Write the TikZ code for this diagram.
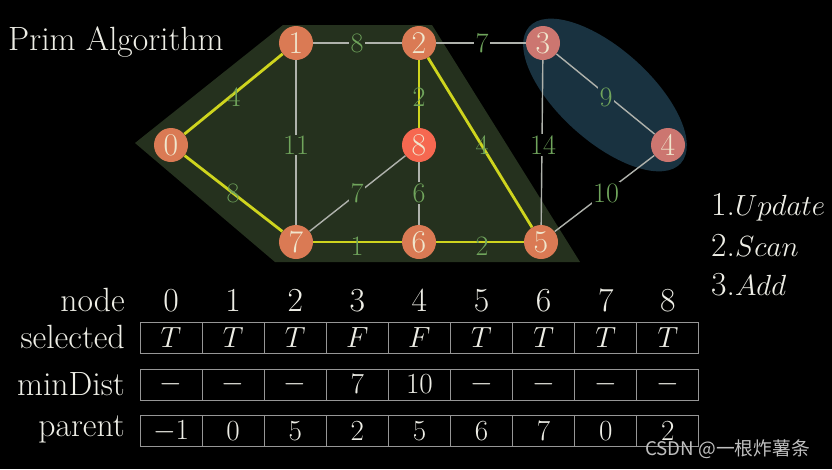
\documentclass[tikz,border=0pt]{standalone}
\usepackage{fontspec}
\newfontfamily\cjkfont{Noto Sans CJK SC}
\usepackage{tikz}
\usetikzlibrary{positioning,calc}
\definecolor{nodeOrange}{RGB}{218,122,84}
\definecolor{nodeRed}{RGB}{246,104,80}
\definecolor{nodePink}{RGB}{204,118,112}
\definecolor{nodeTxt}{RGB}{240,230,205}
\definecolor{treeYellow}{RGB}{206,212,30}
\definecolor{edgeGray}{RGB}{175,178,172}
\definecolor{wGreen}{RGB}{112,165,92}
\definecolor{setGreen}{RGB}{37,49,30}
\definecolor{cutBlue}{RGB}{25,50,64}
\definecolor{txtWhite}{RGB}{238,238,230}
\definecolor{cellGray}{RGB}{150,150,150}

\begin{document}
\begin{tikzpicture}[x=0.03cm,y=-0.03cm,
  vtx/.style={circle,fill=nodeOrange,minimum size=1.02cm,inner sep=0pt,
              text=nodeTxt,font=\fontsize{27}{27}\selectfont},
  wlab/.style={text=wGreen,inner sep=1pt,font=\fontsize{24}{24}\selectfont},
  gedge/.style={draw=edgeGray,line width=1.2pt},
  tedge/.style={draw=treeYellow,line width=2.4pt},
  txt/.style={text=txtWhite,inner sep=0pt,font=\fontsize{28.7}{32}\selectfont},
  cell/.style={draw=cellGray,line width=0.8pt,minimum width=1.863cm,minimum height=0.93cm,
               inner sep=0pt,text=txtWhite,font=\fontsize{28.7}{32}\selectfont},
]
\fill[black] (0,0) rectangle (832,469);
\useasboundingbox (0,0) rectangle (832,469);

\fill[setGreen] (135,143) -- (283,25) -- (432,25) -- (580,262) -- (275,262) -- cycle;
\fill[cutBlue,rotate around={-42:(605,95)}] (605,95) ellipse [x radius=3.06cm,y radius=1.38cm];

\node[txt,anchor=base west] (title) at (8,50) {Prim Algorithm};

\node[vtx] (v0) at (171,145) {0};
\node[vtx] (v1) at (296,43) {1};
\node[vtx] (v2) at (419,43) {2};
\node[vtx,fill=nodePink] (v3) at (543,43) {3};
\node[vtx,fill=nodePink] (v4) at (668,145) {4};
\node[vtx] (v5) at (541,242) {5};
\node[vtx] (v6) at (419,242) {6};
\node[vtx] (v7) at (296,242) {7};
\node[vtx,fill=nodeRed] (v8) at (419,145) {8};

\foreach \a/\b in {v1/v2,v2/v3,v1/v7,v7/v8,v8/v6,v3/v5,v3/v4,v4/v5}
  \draw[gedge] (\a) -- (\b);
\foreach \a/\b in {v0/v1,v0/v7,v2/v8,v2/v5,v7/v6,v6/v5}
  \draw[tedge] (\a) -- (\b);

\node[wlab] (w01) at (234,97) {4};
\node[wlab] (w07) at (233,193) {8};
\node[wlab,fill=setGreen] (w12) at (357,43) {8};
\node[wlab,fill=black] (w23) at (482,43) {7};
\node[wlab,fill=setGreen] (w17) at (296,145) {11};
\node[wlab] (w28) at (419,97) {2};
\node[wlab] (w25) at (482,145) {4};
\node[wlab,fill=setGreen] (w78) at (357,193) {7};
\node[wlab,fill=setGreen] (w86) at (419,193) {6};
\node[wlab,fill=black] (w35) at (543,145) {14};
\node[wlab,fill=cutBlue] (w34) at (606,97) {9};
\node[wlab,fill=black] (w45) at (606,193) {10};
\node[wlab] (w76) at (357,246) {1};
\node[wlab] (w65) at (482,246) {2};

\node[txt,anchor=base west] (upd) at (711,215) {1.$Update$};
\node[txt,anchor=base west] (scn) at (711,256) {2.$Scan$};
\node[txt,anchor=base west] (add) at (711,295) {3.$Add$};

\node[txt,anchor=base east] (lnode) at (125,311) {node};
\node[txt,anchor=base east] (lsel) at (125,348) {selected};
\node[txt,anchor=base east] (lmin) at (125,395) {minDist};
\node[txt,anchor=base east] (lpar) at (125,436) {parent};

\foreach \i in {0,...,8}
  \node[txt,anchor=base] (col\i) at ({171.05+62.1*\i},311) {\i};
\foreach \v [count=\i from 0] in {T,T,T,F,F,T,T,T,T}
  \node[cell] (sel\i) at ({171.05+62.1*\i},337.5) {$\v$};
\foreach \v [count=\i from 0] in {-,-,-,7,10,-,-,-,-}
  \node[cell] (min\i) at ({171.05+62.1*\i},384.5) {$\v$};
\foreach \v [count=\i from 0] in {-1,0,5,2,5,6,7,0,2}
  \node[cell] (par\i) at ({171.05+62.1*\i},431) {$\v$};

\node[anchor=base west,inner sep=0pt,text=white!75!black,font=\cjkfont\fontsize{16}{16}\selectfont]
  (mark) at (645,455) {CSDN @一根炸薯条};
\end{tikzpicture}
\end{document}
